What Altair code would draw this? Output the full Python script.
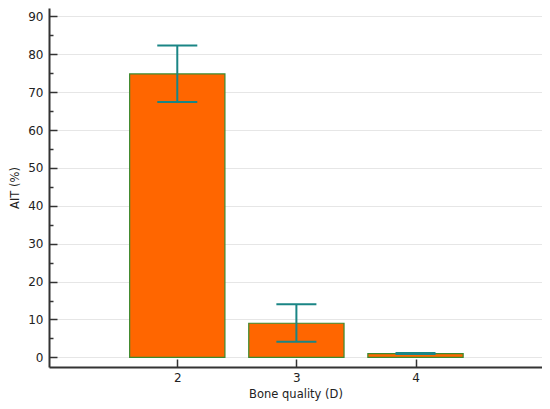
import altair as alt
import pandas as pd

# ---- data ----
categories = [2, 3, 4]
means = [74.8, 9.0, 1.0]
lower = [67.4, 4.1, 0.85]
upper = [82.3, 14.0, 1.15]

y_major = [0, 10, 20, 30, 40, 50, 60, 70, 80, 90]
y_minor = [5, 15, 25, 35, 45, 55, 65, 75, 85]
x_ticks = [2, 3, 4]

df = pd.DataFrame({"cat": categories, "mean": means, "lo": lower, "hi": upper})

FONT = "DejaVu Sans"
AXIS_COLOR = "#333333"
xscale = alt.Scale(domain=[0.923, 5.062], nice=False, zero=False)
yscale = alt.Scale(domain=[-2.55, 92.2], nice=False, zero=False)

base = alt.Chart(df).transform_calculate(
    x_lo="datum.cat - 0.4",
    x_hi="datum.cat + 0.4",
    c_lo="datum.cat - 0.168",
    c_hi="datum.cat + 0.168",
)

main_x = alt.Axis(orient="bottom", values=x_ticks, format="d", ticks=False, tickSize=0,
                  labelPadding=5, domainColor=AXIS_COLOR, domainWidth=2, grid=False,
                  title="Bone quality (D)", titlePadding=5)
main_y = alt.Axis(orient="left", values=y_major, format="d", ticks=False, tickSize=0,
                  labelPadding=6, domainColor=AXIS_COLOR, domainWidth=2, grid=True,
                  gridColor="#e6e6e6", gridWidth=1, title="AIT (%)", titlePadding=7)
tick_x = alt.Axis(orient="bottom", values=x_ticks, domain=False, labels=False, grid=False,
                  ticks=True, tickSize=8, offset=-8, tickColor=AXIS_COLOR, tickWidth=1.5, title=None)
tick_y = alt.Axis(orient="left", values=y_major, domain=False, labels=False, grid=False,
                  ticks=True, tickSize=8, offset=-8, tickColor=AXIS_COLOR, tickWidth=1.5, title=None)
minor_y = alt.Axis(orient="left", values=y_minor, domain=False, labels=False, grid=False,
                   ticks=True, tickSize=4, offset=-4, tickColor=AXIS_COLOR, tickWidth=1.5, title=None)

ERR = "#1A8585"

bars = base.mark_bar(color="#FF6600", stroke="#3C8A2E", strokeWidth=1.2).encode(
    x=alt.X("x_lo:Q", scale=xscale, axis=main_x),
    x2="x_hi:Q",
    y=alt.Y("mean:Q", scale=yscale, axis=main_y),
    y2=alt.datum(0),
)

errs = base.mark_rule(color=ERR, strokeWidth=2).encode(
    x=alt.X("cat:Q", scale=xscale, axis=tick_x),
    y=alt.Y("lo:Q", scale=yscale, axis=tick_y),
    y2="hi:Q",
)

caps_hi = base.mark_rule(color=ERR, strokeWidth=2).encode(
    x=alt.X("c_lo:Q", scale=xscale, axis=None),
    x2="c_hi:Q",
    y=alt.Y("hi:Q", scale=yscale, axis=minor_y),
)

caps_lo = base.mark_rule(color=ERR, strokeWidth=2).encode(
    x=alt.X("c_lo:Q", scale=xscale, axis=None),
    x2="c_hi:Q",
    y=alt.Y("lo:Q", scale=yscale, axis=None),
)

chart = (
    alt.layer(bars, errs, caps_hi, caps_lo)
    .resolve_axis(x="independent", y="independent")
    .properties(
        width=493,
        height=359,
        autosize=alt.AutoSizeParams(type="none"),
        padding={"left": 41, "top": 0, "right": 0, "bottom": 34},
        background="white",
    )
    .configure_view(stroke=None)
    .configure_axis(
        labelFont=FONT, titleFont=FONT, labelFontSize=12, titleFontSize=11.5,
        labelColor="#222222", titleColor="#222222", titleFontWeight="normal",
    )
)

chart.save("out.html", embed_options={"renderer": "svg", "actions": False})
